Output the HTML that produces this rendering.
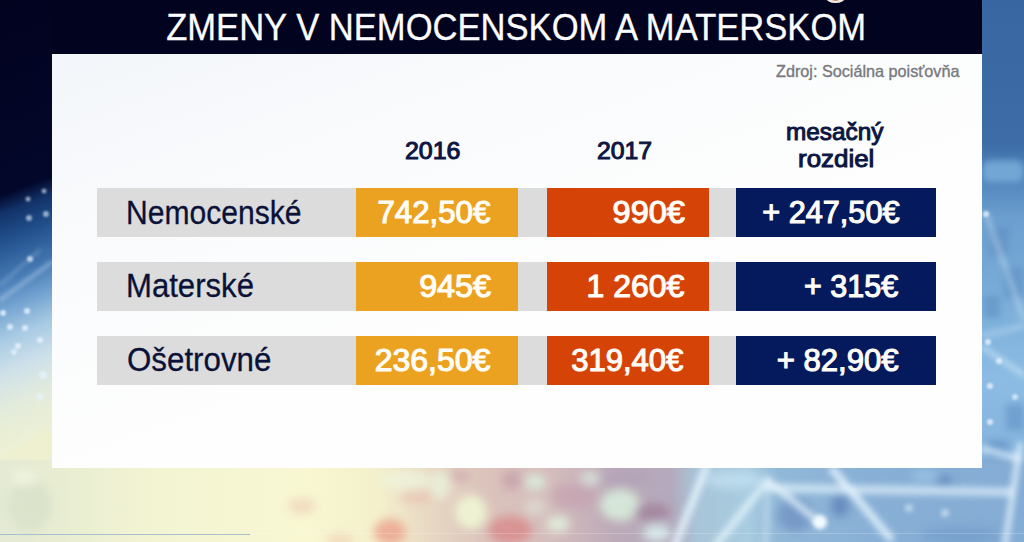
<!DOCTYPE html>
<html><head><meta charset="utf-8">
<style>
html,body{margin:0;padding:0;}
body{width:1024px;height:542px;overflow:hidden;position:relative;background:#02031f;font-family:"Liberation Sans",sans-serif;}
.bg{position:absolute;left:0;top:0;width:1024px;height:542px;}
.abs{position:absolute;}
.t{position:absolute;white-space:nowrap;}
.titlebar{left:52px;top:0;width:930px;height:54.4px;background:#02031f;}
.panel{left:52px;top:54.4px;width:929.5px;height:413.8px;background:linear-gradient(160deg,#f3f6fa 0%,#fbfcfd 35%,#fefefe 60%,#fefefe 100%);}
.ti{color:#fdfdff;-webkit-text-stroke:0.3px #fdfdff;}
.src{color:#77797e;-webkit-text-stroke:0.35px #77797e;}
.hdr{color:#0c1642;-webkit-text-stroke:1.0px #0c1642;}
.lab{color:#0a1238;-webkit-text-stroke:0.3px #0a1238;}
.val{color:#fffdf8;-webkit-text-stroke:1.1px #fffdf8;}
.gray{left:97px;width:639px;height:49px;background:#dcdcdd;}
.o{left:355.5px;width:162.5px;height:49px;background:#eca221;}
.r{left:547px;width:161.8px;height:49px;background:#d64307;}
.n{left:736px;width:200.2px;height:49px;background:#041a5c;}
</style></head><body>
<svg class="bg" width="1024" height="542" viewBox="0 0 1024 542">
<defs>
<linearGradient id="lg" gradientUnits="userSpaceOnUse" x1="0" y1="0" x2="208" y2="542">
<stop offset="0" stop-color="#02031f"/>
<stop offset="0.315" stop-color="#03072a"/>
<stop offset="0.345" stop-color="#12336a"/>
<stop offset="0.39" stop-color="#22508c"/>
<stop offset="0.451" stop-color="#4478b2"/>
<stop offset="0.495" stop-color="#70a0cf"/>
<stop offset="0.546" stop-color="#a6c9e3"/>
<stop offset="0.599" stop-color="#cde0ea"/>
<stop offset="0.658" stop-color="#e2ebdc"/>
<stop offset="0.73" stop-color="#eef0d0"/>
<stop offset="1" stop-color="#eef0d2"/>
</linearGradient>
<linearGradient id="rg" x1="0" y1="0" x2="0" y2="1">
<stop offset="0" stop-color="#3866a0"/>
<stop offset="0.26" stop-color="#3d6ca6"/>
<stop offset="0.32" stop-color="#4d82ba"/>
<stop offset="0.40" stop-color="#6c9ecf"/>
<stop offset="0.60" stop-color="#80b2dc"/>
<stop offset="0.70" stop-color="#8cbce4"/>
<stop offset="0.85" stop-color="#84b2dc"/>
<stop offset="1" stop-color="#7aa4d0"/>
</linearGradient>
<linearGradient id="bg2" x1="0" y1="0" x2="1" y2="0">
<stop offset="0" stop-color="#e4ead4"/>
<stop offset="0.06" stop-color="#e8edd2"/>
<stop offset="0.15" stop-color="#f3f4d2"/>
<stop offset="0.30" stop-color="#f8f7d2"/>
<stop offset="0.37" stop-color="#f4f0cc"/>
<stop offset="0.42" stop-color="#e8d8c4"/>
<stop offset="0.47" stop-color="#dcc4bc"/>
<stop offset="0.54" stop-color="#d4bcbc"/>
<stop offset="0.60" stop-color="#bcaab8"/>
<stop offset="0.655" stop-color="#b4aabc"/>
<stop offset="0.68" stop-color="#a8c4d8"/>
<stop offset="0.73" stop-color="#a8cce0"/>
<stop offset="0.76" stop-color="#92b8d8"/>
<stop offset="0.85" stop-color="#88b0d6"/>
<stop offset="1" stop-color="#84acd4"/>
</linearGradient>
<filter id="b6" x="-50%" y="-50%" width="200%" height="200%"><feGaussianBlur stdDeviation="5"/></filter>
<filter id="b3" x="-50%" y="-50%" width="200%" height="200%"><feGaussianBlur stdDeviation="3"/></filter>
<filter id="b2" x="-50%" y="-50%" width="200%" height="200%"><feGaussianBlur stdDeviation="2"/></filter>
<filter id="b1" x="-50%" y="-50%" width="200%" height="200%"><feGaussianBlur stdDeviation="1.2"/></filter>
</defs>
<rect x="0" y="0" width="60" height="542" fill="url(#lg)"/>
<rect x="975" y="0" width="49" height="542" fill="url(#rg)"/>
<rect x="0" y="460" width="1024" height="82" fill="url(#bg2)"/>
<g filter="url(#b6)">
<!-- left greenish patches -->
<ellipse cx="30" cy="505" rx="22" ry="26" fill="#d6dfc8" opacity="0.7"/>
<ellipse cx="25" cy="478" rx="12" ry="8" fill="#f4f6e4" opacity="0.7"/>
<!-- yellow zone pink hints -->
<ellipse cx="302" cy="506" rx="14" ry="8" fill="#f0d4bc" opacity="0.8"/>
<ellipse cx="390" cy="532" rx="16" ry="13" fill="#eca48e" opacity="0.85"/>
<ellipse cx="416" cy="497" rx="16" ry="7" fill="#e8c4b4" opacity="0.8"/>
<ellipse cx="405" cy="480" rx="26" ry="10" fill="#eef4dc" opacity="0.8"/>
<ellipse cx="340" cy="540" rx="14" ry="6" fill="#f0c8b0" opacity="0.6"/>
<!-- middle zone -->
<ellipse cx="440" cy="485" rx="10" ry="14" fill="#e8f0d8" opacity="0.9"/>
<ellipse cx="471" cy="512" rx="16" ry="17" fill="#eef4d4" opacity="0.95"/>
<ellipse cx="510" cy="530" rx="22" ry="14" fill="#d88c8c" opacity="0.85"/>
<ellipse cx="460" cy="476" rx="10" ry="6" fill="#cca4ac" opacity="0.7"/>
<ellipse cx="512" cy="480" rx="11" ry="10" fill="#c49ca8" opacity="0.7"/>
<ellipse cx="535" cy="482" rx="11" ry="8" fill="#d8ecdc" opacity="0.9"/>
<ellipse cx="535" cy="507" rx="11" ry="8" fill="#e0e8d8" opacity="0.6"/>
<ellipse cx="558" cy="524" rx="12" ry="8" fill="#e0f0dc" opacity="0.9"/>
<ellipse cx="573" cy="496" rx="22" ry="12" fill="#c4a0b0" opacity="0.7"/>
<ellipse cx="590" cy="478" rx="10" ry="7" fill="#d8e8e0" opacity="0.8"/>
<ellipse cx="620" cy="505" rx="20" ry="16" fill="#d8ecdc" opacity="0.9"/>
<ellipse cx="625" cy="478" rx="25" ry="8" fill="#b0a0b8" opacity="0.7"/>
<ellipse cx="652" cy="512" rx="18" ry="9" fill="#a08098" opacity="0.8"/>
<ellipse cx="657" cy="533" rx="14" ry="9" fill="#d8ecec" opacity="0.9"/>
<ellipse cx="735" cy="480" rx="30" ry="9" fill="#c0e0f0" opacity="0.8"/>
<!-- blue zone -->
<ellipse cx="795" cy="515" rx="18" ry="17" fill="#6c8ec0" opacity="0.7"/>
<ellipse cx="840" cy="506" rx="9" ry="11" fill="#5c80b8" opacity="0.8"/>
<ellipse cx="944" cy="481" rx="8" ry="5" fill="#5a80b8" opacity="0.8"/>
<ellipse cx="925" cy="476" rx="14" ry="6" fill="#a0c8e8" opacity="0.7"/>
<ellipse cx="960" cy="535" rx="40" ry="8" fill="#6e96c8" opacity="0.6"/>
</g>
<g filter="url(#b3)" fill="#5586bc" opacity="0.45">
<rect x="990" y="228" width="18" height="28"/>
<rect x="1004" y="268" width="20" height="30"/>
<rect x="984" y="296" width="16" height="22"/>
<rect x="1006" y="404" width="18" height="26"/>
<rect x="988" y="440" width="20" height="18"/>
</g>
<g filter="url(#b3)" fill="#8cc0e8" opacity="0.6">
<rect x="982" y="160" width="42" height="22" rx="8"/>
</g>
<g filter="url(#b3)" stroke="#e8f6fe" fill="none" stroke-linecap="round">
<path d="M675 545 L706 468" stroke-width="8" opacity="0.8"/>
<path d="M716 545 L768 480" stroke-width="8" opacity="0.7"/>
<path d="M770 488 L1010 492" stroke-width="9" opacity="0.65"/>
<path d="M768 483 L766 545" stroke-width="5" opacity="0.4"/>
<path d="M772 484 L820 523" stroke-width="7" opacity="0.75"/>
<path d="M833 470 L890 538" stroke-width="8" opacity="0.8"/>
<path d="M1020 445 L1005 545" stroke-width="6" opacity="0.8"/>
<path d="M983 449 L1020 459" stroke-width="6" opacity="0.75"/>
<path d="M986 214 L1024 319" stroke-width="3" opacity="0.6"/>
<path d="M982 336 L1024 326" stroke-width="3" opacity="0.55"/>
<path d="M982 347 L1024 375" stroke-width="4" opacity="0.6"/>
<path d="M0 455 L45 420" stroke-width="4" opacity="0.3"/>
</g>
<g filter="url(#b2)" fill="#f2faff">
<circle cx="820" cy="522" r="7"/>
<circle cx="909" cy="508" r="4" opacity="0.5"/>
<circle cx="945" cy="513" r="4" opacity="0.5"/>
</g>
<g filter="url(#b1)" fill="#e8f4ff">
<circle cx="28" cy="199" r="2.5" opacity="0.6"/>
<circle cx="44" cy="191" r="2.5" opacity="0.6"/>
<circle cx="29" cy="218" r="3" opacity="0.6"/>
<circle cx="46" cy="214" r="3" opacity="0.6"/>
<circle cx="30" cy="259" r="3" opacity="0.7"/>
<circle cx="3" cy="313" r="3" opacity="0.8"/>
<circle cx="27" cy="311" r="3" opacity="0.8"/>
<circle cx="10" cy="327" r="3" opacity="0.8"/>
<circle cx="25" cy="328" r="3" opacity="0.8"/>
<circle cx="18" cy="346" r="3" opacity="0.8"/>
<circle cx="40" cy="340" r="3" opacity="0.8"/>
<circle cx="14" cy="352" r="3" opacity="0.7"/>
<circle cx="43" cy="375" r="4" opacity="0.7"/>
<circle cx="40" cy="397" r="4" opacity="0.6"/>
<circle cx="986" cy="214" r="3" opacity="0.8"/>
<circle cx="988" cy="342" r="3" opacity="0.8"/>
<circle cx="999" cy="361" r="3" opacity="0.8"/>
<circle cx="990" cy="386" r="3" opacity="0.8"/>
<circle cx="1015" cy="397" r="3" opacity="0.7"/>
<circle cx="990" cy="422" r="3" opacity="0.8"/>
</g>
<g filter="url(#b2)" stroke="#cfe4f6" fill="none" stroke-linecap="round">
<path d="M0 300 L52 262" stroke-width="3" opacity="0.5"/>
<path d="M0 285 L40 250" stroke-width="2" opacity="0.4"/>
</g>
<line x1="0" y1="534.5" x2="250" y2="534.5" stroke="#a8bfcf" stroke-width="1.2"/>
<line x1="250" y1="533.5" x2="1024" y2="533.5" stroke="#ffffff" stroke-width="1" opacity="0.2"/>
</svg>

<div class="abs titlebar"></div>
<div class="abs" style="left:826px;top:-8px;width:19px;height:10.5px;border-radius:50%;background:#f4ece6;"></div>
<div class="abs" style="left:830px;top:-8px;width:11px;height:8.5px;border-radius:50%;background:#d88a68;"></div>
<div class="abs panel"></div>
<div class="abs gray" style="top:187.5px;"></div>
<div class="abs o" style="top:187.5px;"></div>
<div class="abs r" style="top:187.5px;"></div>
<div class="abs n" style="top:187.5px;"></div>
<div class="abs gray" style="top:261.5px;"></div>
<div class="abs o" style="top:261.5px;"></div>
<div class="abs r" style="top:261.5px;"></div>
<div class="abs n" style="top:261.5px;"></div>
<div class="abs gray" style="top:335.5px;"></div>
<div class="abs o" style="top:335.5px;"></div>
<div class="abs r" style="top:335.5px;"></div>
<div class="abs n" style="top:335.5px;"></div>
<div class="t ti" style="left:0;width:1032.28px;text-align:center;top:8.54px;font-size:37.5px;line-height:37.5px;transform:scaleX(0.9220);transform-origin:516.14px 0;">ZMENY V NEMOCENSKOM A MATERSKOM</div>
<div class="t src" style="left:776.02px;top:63.11px;font-size:16.1px;line-height:16.1px;transform:scaleX(1.0064);transform-origin:0 0;">Zdroj: Sociálna poisťovňa</div>
<div class="t hdr" style="left:404.95px;top:140.12px;font-size:23px;line-height:23px;transform:scaleX(1.0846);transform-origin:0 0;">2016</div>
<div class="t hdr" style="left:596.98px;top:140.12px;font-size:23px;line-height:23px;transform:scaleX(1.0763);transform-origin:0 0;">2017</div>
<div class="t hdr" style="left:786.00px;top:119.70px;font-size:24.2px;line-height:24.2px;transform:scaleX(1.0066);transform-origin:0 0;">mesačný</div>
<div class="t hdr" style="left:797.74px;top:147.20px;font-size:24.2px;line-height:24.2px;transform:scaleX(1.0713);transform-origin:0 0;">rozdiel</div>
<div class="t lab" style="left:126.02px;top:197.49px;font-size:32.6px;line-height:32.6px;transform:scaleX(0.9231);transform-origin:0 0;">Nemocenské</div>
<div class="t lab" style="left:126.00px;top:270.39px;font-size:32.6px;line-height:32.6px;transform:scaleX(0.9552);transform-origin:0 0;">Materské</div>
<div class="t lab" style="left:126.76px;top:344.09px;font-size:32.6px;line-height:32.6px;transform:scaleX(0.9603);transform-origin:0 0;">Ošetrovné</div>
<div class="t val" style="right:533.56px;top:197.37px;font-size:30.5px;line-height:30.5px;transform:scaleX(1.0228);transform-origin:100% 0;">742,50€</div>
<div class="t val" style="right:339.51px;top:197.37px;font-size:30.5px;line-height:30.5px;transform:scaleX(1.0647);transform-origin:100% 0;">990€</div>
<div class="t val" style="right:124.68px;top:197.37px;font-size:30.5px;line-height:30.5px;transform:scaleX(1.0054);transform-origin:100% 0;">+ 247,50€</div>
<div class="t val" style="right:532.71px;top:271.37px;font-size:30.5px;line-height:30.5px;transform:scaleX(1.0566);transform-origin:100% 0;">945€</div>
<div class="t val" style="right:339.23px;top:271.37px;font-size:30.5px;line-height:30.5px;transform:scaleX(1.0474);transform-origin:100% 0;">1 260€</div>
<div class="t val" style="right:126.24px;top:271.37px;font-size:30.5px;line-height:30.5px;transform:scaleX(0.9994);transform-origin:100% 0;">+ 315€</div>
<div class="t val" style="right:533.36px;top:345.37px;font-size:30.5px;line-height:30.5px;transform:scaleX(1.0483);transform-origin:100% 0;">236,50€</div>
<div class="t val" style="right:340.48px;top:345.37px;font-size:30.5px;line-height:30.5px;transform:scaleX(1.0165);transform-origin:100% 0;">319,40€</div>
<div class="t val" style="right:125.68px;top:345.37px;font-size:30.5px;line-height:30.5px;transform:scaleX(1.0198);transform-origin:100% 0;">+ 82,90€</div>
</body></html>
